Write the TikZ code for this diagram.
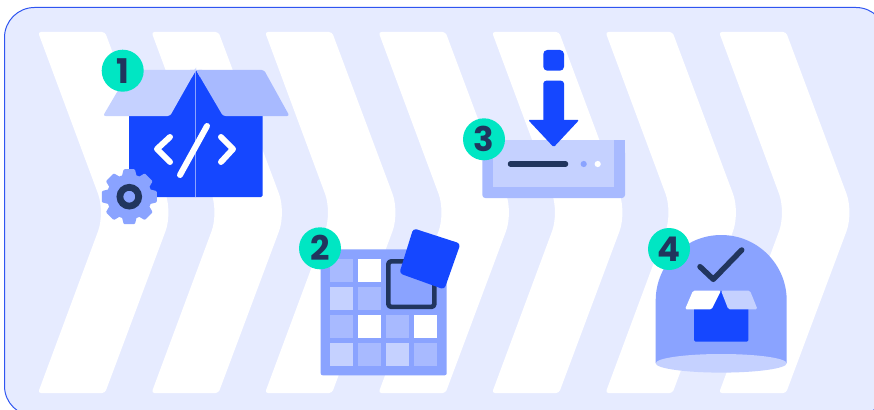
\documentclass[tikz,border=0pt]{standalone}
\usepackage{fontspec}
\setmainfont{Poppins}
\definecolor{panelfill}{HTML}{E6EBFF}
\definecolor{panelline}{HTML}{2F55F0}
\definecolor{brand}{HTML}{1547FF}
\definecolor{lightb}{HTML}{C5D1FF}
\definecolor{softb}{HTML}{A8BAFF}
\definecolor{midb}{HTML}{8AA3FF}
\definecolor{inkb}{HTML}{21355E}
\definecolor{teal}{HTML}{00E6C3}
\tikzset{
  badge/.style={circle,fill=teal,minimum size=42pt,inner sep=0pt,text=inkb,font=\fontsize{34}{34}\selectfont\bfseries},
  whitestroke/.style={draw=white,line width=6pt,line cap=round,line join=round},
  inkstroke/.style={draw=inkb,line join=round,line cap=round},
  cell/.style={minimum size=23pt,inner sep=0pt,anchor=north west},
}
\begin{document}
\begin{tikzpicture}[x=1pt,y=-1pt]
\useasboundingbox (0,0) rectangle (874,409);
\clip (0,0) rectangle (874,409);
\fill[white] (0,0) rectangle (874,409);
% panel
\draw[panelline,fill=panelfill,line width=1pt,rounded corners=30pt] (4.5,7.5) rectangle (886,416);
% chevrons
\foreach \i in {0,...,6}{
  \fill[white,xshift=113.5*\i pt]
    [rounded corners=3pt] (38,32) -- (105,32)
    [rounded corners=20pt] -- (172.5,212.5)
    [rounded corners=3pt] -- (105,393) -- (38,393)
    [rounded corners=20pt] -- (105,212.5)
    [rounded corners=3pt] -- cycle;
}
% item 1: box
\fill[brand,rounded corners=1.5pt] (129,110) -- (262.5,110) -- (262.5,197) -- (129,197) -- cycle;
\fill[brand] (165,116) -- (196,70) -- (228,116) -- cycle;
\draw[midb,line width=0.6pt] (195.7,70) -- (195.7,197);
\fill[lightb,rounded corners=2.5pt] (130,70) -- (196,70) [sharp corners] -- (196,70) [rounded corners=2.5pt] -- (170,116) -- (103,116) -- cycle;
\fill[softb,rounded corners=2.5pt] (196,70) -- (264,70) -- (289.5,116) -- (223,116) -- cycle;
\fill[lightb] (190,70) -- (196,70) -- (192,77) -- cycle;
\fill[softb] (196,70) -- (202,70) -- (200,77) -- cycle;
\draw[whitestroke] (170,137) -- (157,149) -- (170,162);
\draw[whitestroke] (221,137) -- (233,149) -- (221,162);
\draw[whitestroke] (207,126) -- (180,175);
% gear
\begin{scope}[shift={(129.3,196.7)}]
  \fill[midb] (0,0) circle[radius=22.5];
  \foreach \a in {0,45,...,315}{
    \fill[midb,rotate=\a,rounded corners=1pt] (-8,-18) -- (-5.6,-27.5) -- (5.6,-27.5) -- (8,-18) -- cycle;
  }
  \fill[midb] (0,0) circle[radius=10];
  \draw[inkb,line width=6.7pt] (0,0) circle[radius=9.4];
\end{scope}
\node[badge] (n1) at (122.7,70.7) {1};
% item 2: grid
\fill[midb,rounded corners=2pt] (320.7,249.3) rectangle (446.7,375.3);
\foreach \c/\r/\col in {0/0/softb,1/0/white,0/1/lightb,1/1/softb,0/2/softb,1/2/white,2/2/softb,3/2/white,0/3/lightb,1/3/softb,2/3/lightb,3/3/softb}{
  \node[cell,fill=\col] (c\c\r) at (330+28*\c,259+28*\r) {};
}
\draw[inkstroke,line width=4.6pt,rounded corners=3pt] (388.3,261.3) rectangle (434.4,306.9);
\fill[brand,rounded corners=3.5pt] (413.3,228.3) -- (460.5,243.6) -- (444.3,289.5) -- (399.3,273.3) -- cycle;
\node[badge] (n2) at (320,248.3) {2};
% item 3: tray and arrow
\fill[softb,rounded corners=3pt] (482.3,150) -- (482.3,198) -- (625,198) -- (625,150) -- cycle;
\fill[softb] (482.3,140) rectangle (625,155);
\fill[lightb] (492.7,140) rectangle (614.3,187.3);
\fill[brand,rounded corners=4pt] (543.3,50) rectangle (564,70.7);
\fill[brand,rounded corners=3pt] (543.3,125) -- (543.3,80.7) -- (564,80.7) -- (564,125) -- cycle;
\fill[brand,rounded corners=1.5pt] (528,119.8) -- (579.3,119.8) -- (553.7,147.2) -- cycle;
\draw[inkstroke,line width=5.5pt] (510.5,164) -- (565.5,164);
\fill[midb] (583.7,164) circle[radius=3.1];
\fill[white] (597.7,164) circle[radius=3.1];
\node[badge] (n3) at (484,139.3) {3};
% item 4: dome
\fill[midb] (655.7,363) -- (655.7,300.5) .. controls (655.7,264.3) and (685,235) .. (721.2,235) .. controls (757.4,235) and (786.7,264.3) .. (786.7,300.5) -- (786.7,363) -- cycle;
\fill[lightb] (721.2,363.3) ellipse[x radius=65.5,y radius=9.3];
\draw[inkstroke,line width=5.5pt] (700,266.7) -- (713.3,279.3) -- (741.7,250);
\fill[brand,rounded corners=1.5pt] (694,305) -- (748.3,305) -- (748.3,341.7) -- (694,341.7) -- cycle;
\fill[brand] (708,309.5) -- (721,290.7) -- (733,309.5) -- cycle;
\fill[white,rounded corners=1.5pt] (693,290.7) -- (721,290.7) -- (711.7,309.3) -- (685,309.3) -- cycle;
\fill[lightb,rounded corners=1.5pt] (721,290.7) -- (750,290.7) -- (757.5,309.3) -- (728.3,309.3) -- cycle;
\node[badge] (n4) at (669,249) {4};
\end{tikzpicture}
\end{document}
